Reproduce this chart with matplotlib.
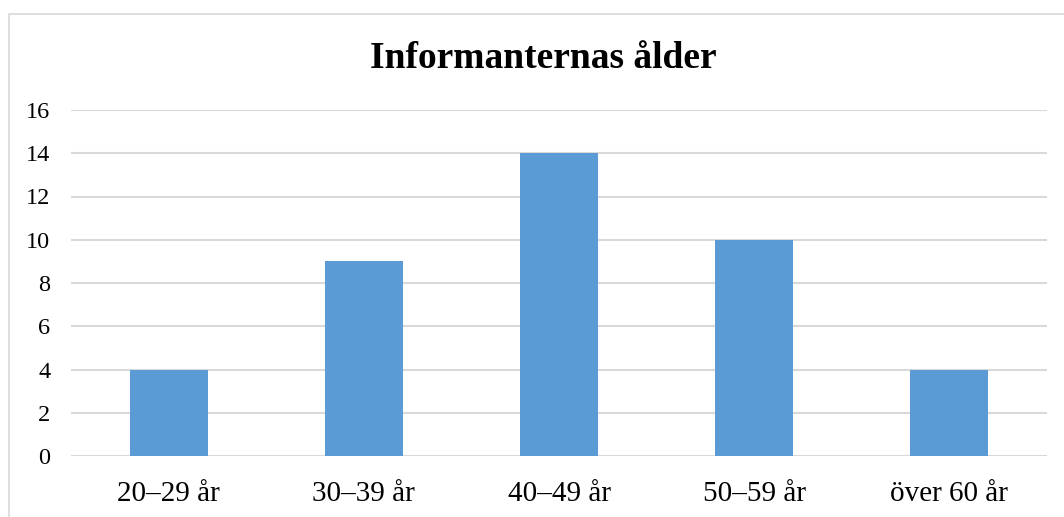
import matplotlib
matplotlib.use("Agg")
import matplotlib.pyplot as plt
from matplotlib.patches import Rectangle

categories = ["20–29 år", "30–39 år", "40–49 år", "50–59 år", "över 60 år"]
counts = [4, 9, 14, 10, 4]
y_ticks = [0, 2, 4, 6, 8, 10, 12, 14, 16]
title = "Informanternas ålder"

plt.rcParams["font.family"] = ["Liberation Serif", "DejaVu Serif"]

W, H = 1064, 517
fig = plt.figure(figsize=(W / 100, H / 100), dpi=100)

# chart frame
fig.patches.append(Rectangle((9 / W, -0.1), 1.2, (H - 14) / H + 0.1,
                             transform=fig.transFigure, fill=False,
                             edgecolor="#D9D9D9", linewidth=1.2))

left, right = 71 / W, 1047 / W
bottom, top = 1 - 456 / H, 1 - 110 / H
ax = fig.add_axes([left, bottom, right - left, top - bottom])

x = list(range(len(categories)))
ax.bar(x, counts, width=0.4, color="#5B9BD5", zorder=3)
ax.set_xlim(-0.5, len(categories) - 0.5)
ax.set_ylim(0, 16)
ax.set_yticks(y_ticks)
ax.set_yticklabels([str(v) for v in y_ticks], fontsize=17.5)
ax.set_xticks(x)
ax.set_xticklabels(categories, fontsize=21)
ax.tick_params(axis="both", length=0, colors="black")
ax.tick_params(axis="y", pad=15)
ax.tick_params(axis="x", pad=18)
ax.grid(axis="y", color="#D9D9D9", linewidth=1.5, zorder=0)
for s in ax.spines.values():
    s.set_visible(False)

fig.text(543 / W, 1 - 58 / H, title, ha="center", va="center",
         fontsize=27, fontweight="bold")

fig.savefig("out.png", dpi=100)
